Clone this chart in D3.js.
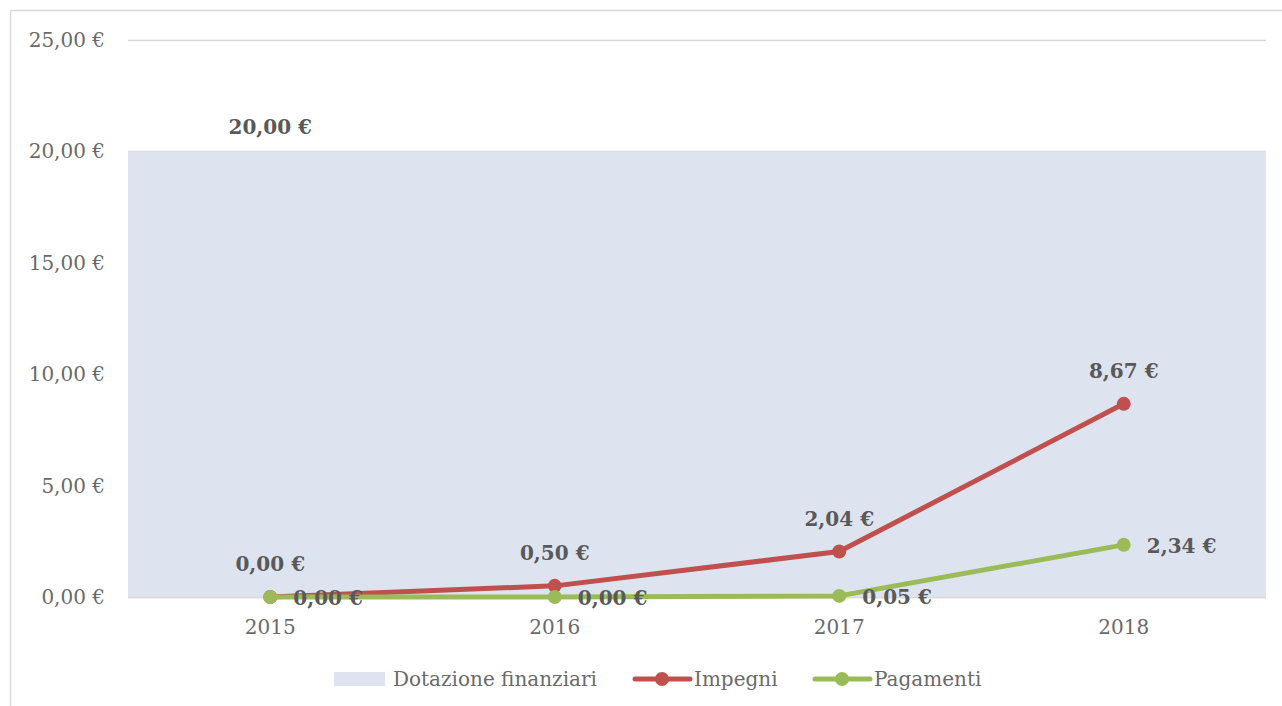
<!DOCTYPE html>
<html>
<head>
<meta charset="utf-8">
<script src="https://cdn.jsdelivr.net/npm/d3@7"></script>
<style>
  body { margin: 0; background: #fff; }
  svg text { font-family: "DejaVu Serif", serif; }
</style>
</head>
<body>
<svg id="chart" width="1282" height="706"></svg>
<script>
"use strict";

// data
var years = ['2015', '2016', '2017', '2018'];
var dotazione = [20, 20, 20, 20];
var impegni = [0, 0.5, 2.04, 8.67];
var pagamenti = [0, 0, 0.05, 2.34];
var yTicks = [0, 5, 10, 15, 20, 25];
var seriesNames = ['Dotazione finanziari', 'Impegni', 'Pagamenti'];

var colArea = '#dde4f0', colRed = '#c0504d', colGreen = '#9bbb59';
var fmt = function (v) { return v.toFixed(2).replace('.', ',') + ' €'; };

var svg = d3.select('#chart');
var m = { left: 128, right: 1266, top: 40, bottom: 597 };

// outer frame
svg.append('rect').attr('x', 10.5).attr('y', 10.5).attr('width', 1300).attr('height', 720)
  .attr('fill', 'none').attr('stroke', '#d9d9d9').attr('stroke-width', 1.5);

var x = d3.scaleBand().domain(years).range([m.left, m.right]).padding(0);
var y = d3.scaleLinear().domain([0, 25]).range([m.bottom, m.top]);
var cx = function (d, i) { return x(years[i]) + x.bandwidth() / 2; };

// grid
svg.append('g').selectAll('line').data(yTicks).enter().append('line')
  .attr('x1', m.left).attr('x2', m.right)
  .attr('y1', function (d) { return Math.round(y(d)) + 0.5; })
  .attr('y2', function (d) { return Math.round(y(d)) + 0.5; })
  .attr('stroke', '#d9d9d9').attr('stroke-width', 1.3);

// area series (fills the whole plot width)
var areaX = [m.left].concat(years.slice(1, -1).map(function (d, i) { return cx(null, i + 1); })).concat([m.right]);
var area = d3.area().x(function (d, i) { return areaX[i]; }).y0(y(0)).y1(function (d) { return y(d); });
svg.append('path').datum(dotazione).attr('d', area).attr('fill', colArea);

// baseline
svg.append('line').attr('x1', m.left).attr('x2', m.right)
  .attr('y1', y(0) + 0.5).attr('y2', y(0) + 0.5).attr('stroke', '#d9d9d9').attr('stroke-width', 1.3);

// y axis
var yAxis = d3.axisLeft(y).tickValues(yTicks).tickFormat(fmt).tickSize(0).tickPadding(23);
var gy = svg.append('g').attr('transform', 'translate(' + m.left + ',0)').call(yAxis);
gy.select('.domain').remove();
gy.selectAll('text').attr('font-size', 20).attr('fill', '#6a6a6a').style('font-family', '"DejaVu Serif", serif');

// x axis
var xAxis = d3.axisBottom(x).tickSize(0).tickPadding(23);
var gx = svg.append('g').attr('transform', 'translate(0,' + m.bottom + ')').call(xAxis);
gx.select('.domain').remove();
gx.selectAll('text').attr('font-size', 20).attr('fill', '#6a6a6a').style('font-family', '"DejaVu Serif", serif');

// lines
var line = d3.line().x(cx).y(function (d) { return y(d); });
function drawSeries(vals, col) {
  svg.append('path').datum(vals).attr('d', line).attr('fill', 'none')
    .attr('stroke', col).attr('stroke-width', 5).attr('stroke-linejoin', 'round');
  svg.append('g').selectAll('circle').data(vals).enter().append('circle')
    .attr('cx', cx).attr('cy', function (d) { return y(d); }).attr('r', 7).attr('fill', col);
}
drawSeries(impegni, colRed);
drawSeries(pagamenti, colGreen);

// data labels
function addLabel(px, py, txt, anchor) {
  svg.append('text').attr('x', px).attr('y', py).attr('text-anchor', anchor)
    .attr('font-size', 20).attr('font-weight', 'bold').attr('fill', '#595959').text(txt);
}
addLabel(cx(null, 0), y(dotazione[0]) - 17, fmt(dotazione[0]), 'middle');
impegni.forEach(function (d, i) { addLabel(cx(d, i), y(d) - 26, fmt(d), 'middle'); });
pagamenti.forEach(function (d, i) { addLabel(cx(d, i) + 23, y(d) + 8, fmt(d), 'start'); });

// legend
var lg = svg.append('g').attr('transform', 'translate(0,679)');
lg.append('rect').attr('x', 334).attr('y', -7).attr('width', 51).attr('height', 14).attr('fill', colArea);
lg.append('text').attr('x', 393).attr('y', 7).text(seriesNames[0]);
[[635, colRed, seriesNames[1]], [815, colGreen, seriesNames[2]]].forEach(function (it) {
  lg.append('line').attr('x1', it[0]).attr('x2', it[0] + 55).attr('stroke', it[1])
    .attr('stroke-width', 5).attr('stroke-linecap', 'round');
  lg.append('circle').attr('cx', it[0] + 27).attr('r', 7).attr('fill', it[1]);
  lg.append('text').attr('x', it[0] + 59).attr('y', 7).text(it[2]);
});
lg.selectAll('text').attr('font-size', 20).attr('fill', '#6a6a6a');
</script>
</body>
</html>
